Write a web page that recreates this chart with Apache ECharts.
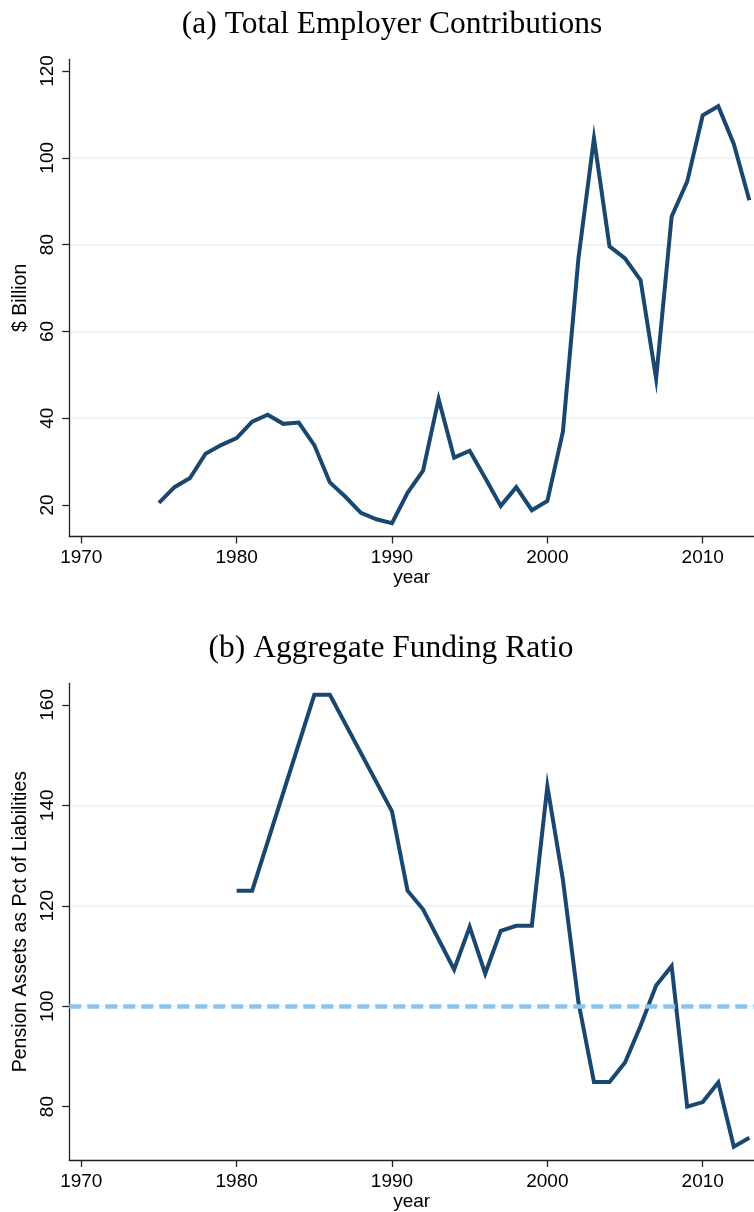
<!DOCTYPE html>
<html>
<head>
<meta charset="utf-8">
<script src="https://cdn.jsdelivr.net/npm/echarts@6/dist/echarts.min.js"></script>
<style>
  html, body { margin: 0; padding: 0; background: #fff; }
  #chart { width: 754px; height: 1212px; }
</style>
</head>
<body>
<div id="chart"></div>
<script>
// (a) total employer contributions, $ billion
const contribYears = [1975, 1976, 1977, 1978, 1979, 1980, 1981, 1982, 1983, 1984, 1985, 1986, 1987, 1988, 1989,
  1990, 1991, 1992, 1993, 1994, 1995, 1996, 1997, 1998, 1999, 2000, 2001, 2002, 2003, 2004, 2005, 2006,
  2007, 2008, 2009, 2010, 2011, 2012, 2013]
const contribValues = [20.5, 24.1, 26.2, 31.8, 33.8, 35.4, 39.2, 40.8, 38.7, 39.0, 33.8, 25.2, 21.9, 18.2, 16.7,
  15.8, 22.8, 27.9, 44.4, 30.9, 32.5, 26.2, 19.8, 24.1, 18.8, 20.9, 36.9, 76.8, 104.5, 79.6, 76.8, 71.8,
  49.1, 86.5, 94.5, 109.8, 111.9, 103.2, 90.2]

// (b) aggregate funding ratio, pension assets as pct of liabilities
const fundingYears = [1980, 1981, 1985, 1986, 1990, 1991, 1992, 1994, 1995, 1996, 1997, 1998, 1999, 2000,
  2001, 2002, 2003, 2004, 2005, 2006, 2007, 2008, 2009, 2010, 2011, 2012, 2013]
const fundingValues = [123.0, 123.0, 162.0, 162.0, 138.8, 123.0, 119.3, 107.3, 115.8, 106.5, 115.0, 116.0, 116.0, 143.8,
  125.2, 100.8, 84.9, 84.9, 88.8, 96.1, 104.1, 108.0, 80.0, 80.9, 84.8, 72.0, 73.8]
const fullFunding = 100

const yearTicks = [1970, 1980, 1990, 2000, 2010]
const contribTicks = [20, 40, 60, 80, 100, 120]
const fundingTicks = [80, 100, 120, 140, 160]

const NAVY = '#1a476f'
const SANS = 'Liberation Sans'
const SERIF = 'Liberation Serif'

const chart = echarts.init(document.getElementById('chart'))

function xAxisFor(gridIndex) {
  return {
    type: 'value', gridIndex, min: 1969.23, max: 2013.3,
    name: 'year', nameLocation: 'middle', nameGap: 32,
    nameTextStyle: { fontFamily: SANS, fontSize: 19, color: '#000' },
    axisLine: { show: true, onZero: false, lineStyle: { color: '#222', width: 1.3 } },
    axisTick: { show: true, length: 7, customValues: yearTicks, lineStyle: { color: '#222', width: 1.3 } },
    axisLabel: { customValues: yearTicks, formatter: v => String(v), margin: 12,
      fontFamily: SANS, fontSize: 19, color: '#000' },
    splitLine: { show: false },
  }
}

function yAxisFor(gridIndex, min, max, ticks, name, gap) {
  return {
    type: 'value', gridIndex, min, max,
    name, nameLocation: 'middle', nameRotate: 90, nameGap: gap,
    nameTextStyle: { fontFamily: SANS, fontSize: 19.5, color: '#000' },
    axisLine: { show: true, lineStyle: { color: '#222', width: 1.3 } },
    axisTick: { show: true, length: 7, customValues: ticks, lineStyle: { color: '#222', width: 1.3 } },
    axisLabel: { customValues: ticks, rotate: 90, margin: 12, fontFamily: SANS, fontSize: 19, color: '#000' },
    splitLine: { show: true, showMinLine: false, showMaxLine: false, lineStyle: { color: '#eaf2f3', width: 1.5 } },
  }
}

const pairs = (xs, ys) => xs.map((x, i) => [x, ys[i]])

chart.setOption({
  animation: false,
  backgroundColor: '#fff',
  title: [
    { text: '(a) Total Employer Contributions', left: 387, top: 4, textAlign: 'center',
      textStyle: { fontFamily: SERIF, fontSize: 31.5, fontWeight: 'normal', color: '#000' } },
    { text: '(b) Aggregate Funding Ratio', left: 386, top: 628, textAlign: 'center',
      textStyle: { fontFamily: SERIF, fontSize: 31.5, fontWeight: 'normal', color: '#000' } },
  ],
  grid: [
    { left: 69.3, right: 0, top: 59.3, height: 477.2 },
    { left: 69.3, right: 0, top: 683.3, height: 477.4 },
  ],
  xAxis: [xAxisFor(0), xAxisFor(1)],
  yAxis: [
    yAxisFor(0, 12.74, 122.7, contribTicks, '$ Billion', 34),
    yAxisFor(1, 69.37, 164.3, fundingTicks, 'Pension Assets as Pct of Liabilities', 34),
  ],
  series: [
    {
      type: 'line', xAxisIndex: 0, yAxisIndex: 0, data: pairs(contribYears, contribValues),
      showSymbol: false, z: 3, lineStyle: { color: NAVY, width: 4, join: 'miter' },
    },
    {
      type: 'line', xAxisIndex: 1, yAxisIndex: 1, data: [], z: 1, silent: true,
      markLine: {
        symbol: 'none', silent: true, label: { show: false },
        lineStyle: { color: '#8cc3ea', width: 4.5, type: [12, 6] },
        data: [{ yAxis: fullFunding }],
      },
    },
    {
      type: 'line', xAxisIndex: 1, yAxisIndex: 1, data: pairs(fundingYears, fundingValues),
      showSymbol: false, z: 3, lineStyle: { color: NAVY, width: 4, join: 'miter' },
    },
  ],
})
</script>
</body>
</html>
